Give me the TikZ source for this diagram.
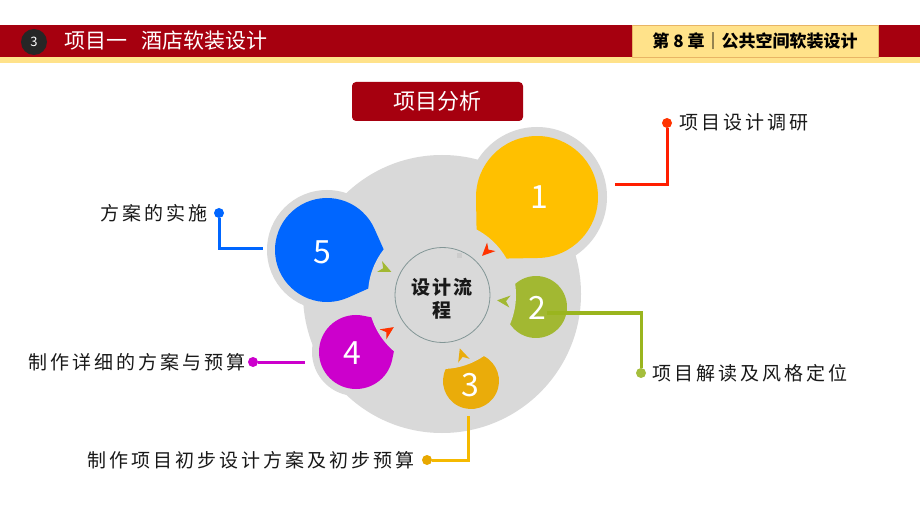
\documentclass[tikz,border=0pt]{standalone}
\usepackage{fontspec}
\setmainfont{Noto Sans CJK SC}
\newfontfamily\labelfont[LetterSpace=16]{Noto Sans CJK SC}
\newfontfamily\ctrfont[LetterSpace=10]{Noto Sans CJK SC}
\usetikzlibrary{calc}
\definecolor{hdrred}{RGB}{166,0,15}
\definecolor{hdryel}{RGB}{255,226,138}
\definecolor{hdrbrd}{RGB}{232,180,100}
\definecolor{bggray}{RGB}{217,217,217}
\definecolor{pyellow}{RGB}{255,192,0}
\definecolor{polive}{RGB}{162,184,50}
\definecolor{pgold}{RGB}{234,172,10}
\definecolor{pmag}{RGB}{204,0,204}
\definecolor{pblue}{RGB}{0,102,255}
\definecolor{lred}{RGB}{255,30,0}
\definecolor{tred}{RGB}{255,51,0}
\definecolor{lolive}{RGB}{154,181,30}
\definecolor{dolive}{RGB}{165,190,60}
\definecolor{lgold}{RGB}{245,185,0}
\definecolor{dgold}{RGB}{232,168,0}
\definecolor{txt}{RGB}{25,25,25}
\definecolor{ringgray}{RGB}{130,150,150}
\newcommand\teardrop[5]{%
  \begin{scope}[shift={(#2,#3)},rotate={-(#5)}]
    \fill[#1] (45:#4) arc[start angle=45,end angle=315,radius=#4] -- (0:{#4*1.41421}) -- cycle;
  \end{scope}}
\tikzset{
  flowtip/.pic={\fill (7,0) -- (-6,-6) -- (-2,0) -- (-6,6) -- cycle;},
  dotnode/.style={circle,inner sep=0pt,minimum size=10pt},
  conn/.style={line width=3pt},
  lbl/.style={inner sep=0pt,text=txt,font=\labelfont\fontsize{19}{19}\selectfont},
  numtxt/.style={inner sep=0pt,text=white,font=\fontsize{32}{32}\selectfont}
}
\begin{document}
\begin{tikzpicture}[x=1pt,y=-1pt]
\useasboundingbox (0,0) rectangle (920,518);
\fill[white] (0,0) rectangle (920,518);
% header
\fill[hdrred] (0,25) rectangle (920,57);
\fill[hdryel] (0,57) rectangle (920,63);
\node[circle,fill=black!85,minimum size=26pt,inner sep=0pt,text=white,font=\fontsize{13}{13}\selectfont] (hnum) at (34,42) {3};
\node[anchor=west,inner sep=0pt,text=white,font=\fontsize{21}{21}\selectfont] (htitle) at (64,41) {项目一\hspace{14pt}酒店软装设计};
\node[fill=hdryel,draw=hdrbrd,line width=0.8pt,minimum width=246pt,minimum height=32pt,inner sep=0pt,font=\bfseries\fontsize{17}{17}\selectfont] (hchap) at (755,41) {第 8 章｜公共空间软装设计};
% title
\node[fill=hdrred,rounded corners=4pt,minimum width=171pt,minimum height=39pt,inner sep=0pt,text=white,font=\fontsize{22}{22}\selectfont] (title) at (437.5,101.5) {项目分析};
% background discs
\fill[bggray] (442,294) circle[radius=139];
\fill[bggray] (537,197) circle[radius=70];
\fill[bggray] (327,250) circle[radius=60];
\fill[bggray] (356,352) circle[radius=44];
% petals
\teardrop{pyellow}{537}{197}{61}{134}
\teardrop{pblue}{327}{250}{52}{21}
\teardrop{pmag}{356}{352}{37}{-33.5}
\teardrop{pgold}{471}{381}{28}{-108.6}
\teardrop{polive}{536}{307}{31}{187}
% cut
\fill[bggray] (442,295) circle[radius=74];
% centre ring
\node[circle,draw=ringgray,line width=0.8pt,minimum size=95pt,inner sep=0pt] (ctr) at (442.5,295) {};
\node[align=center,inner sep=0pt,text=black!90,font=\ctrfont\bfseries\fontsize{19}{23}\selectfont] (ctrtxt) at (442,298.5) {设计流\\程};
\fill[black!20] (457,253) rectangle (462,258);
% arrow marks
\pic[color=tred,rotate=-135.6] at (487,251) {flowtip};
\pic[color=polive,rotate=-185.5] at (504,301) {flowtip};
\pic[color=pgold,rotate=-251.6] at (462,355) {flowtip};
\pic[color=tred,rotate=33.7] at (388,331) {flowtip};
\pic[color=polive,rotate=-24.5] at (385,269) {flowtip};
% numbers
\node[numtxt] (n1) at (539,197) {1};
\node[numtxt] (n2) at (537,308) {2};
\node[numtxt] (n3) at (470,385) {3};
\node[numtxt] (n4) at (352,353) {4};
\node[numtxt] (n5) at (322,252) {5};
% connectors
\coordinate (c1) at (615,185);
\node[dotnode,fill=tred] (d1) at (667,123) {};
\draw[conn,lred] (c1) -| (d1);
\node[lbl,anchor=west] (l1) at (679,122) {项目设计调研};
\coordinate (c2) at (547,313);
\node[dotnode,fill=dolive] (d2) at (641,373) {};
\draw[conn,lolive] (c2) -| (d2);
\node[lbl,anchor=west] (l2) at (652,373) {项目解读及风格定位};
\coordinate (c3) at (468,416);
\node[dotnode,fill=dgold] (d3) at (427,460) {};
\draw[conn,lgold] (d3) -| (c3);
\node[lbl,anchor=east] (l3) at (415,460) {制作项目初步设计方案及初步预算};
\coordinate (c4) at (305,362);
\node[dotnode,fill=pmag] (d4) at (253,362) {};
\draw[conn,pmag] (d4) -- (c4);
\node[lbl,anchor=east] (l4) at (246,362) {制作详细的方案与预算};
\coordinate (c5) at (263,249);
\node[dotnode,fill=pblue] (d5) at (219,213) {};
\draw[conn,pblue] (d5) |- (c5);
\node[lbl,anchor=east] (l5) at (208,213) {方案的实施};
\end{tikzpicture}
\end{document}
